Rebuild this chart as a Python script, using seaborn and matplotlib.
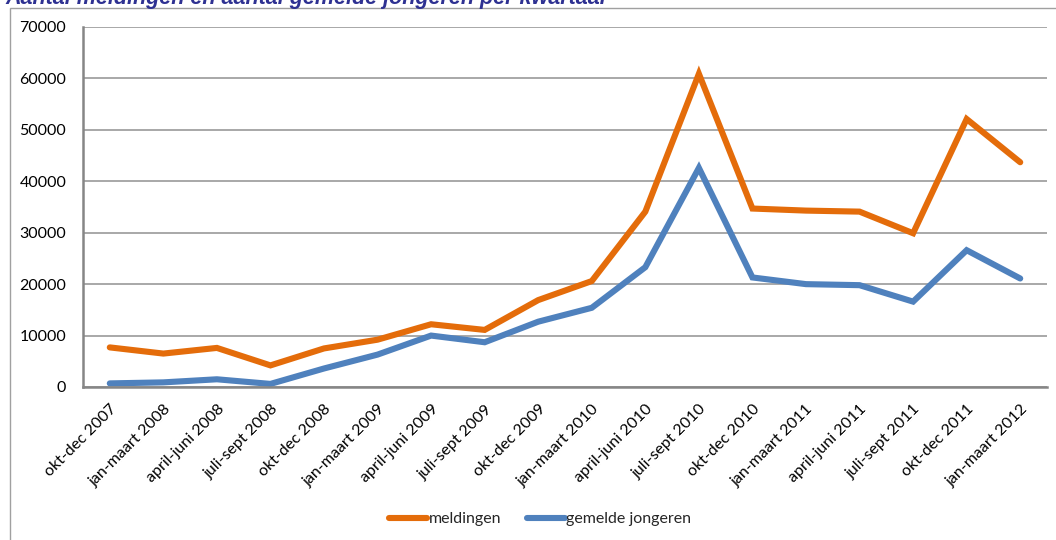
import matplotlib
matplotlib.use("Agg")
import matplotlib.pyplot as plt
import seaborn as sns
import pandas as pd
import numpy as np
from matplotlib.patches import Rectangle
from matplotlib.lines import Line2D

categories = ["okt-dec 2007", "jan-maart 2008", "april-juni 2008", "juli-sept 2008",
              "okt-dec 2008", "jan-maart 2009", "april-juni 2009", "juli-sept 2009",
              "okt-dec 2009", "jan-maart 2010", "april-juni 2010", "juli-sept 2010",
              "okt-dec 2010", "jan-maart 2011", "april-juni 2011", "juli-sept 2011",
              "okt-dec 2011", "jan-maart 2012"]
meldingen = [7700, 6500, 7600, 4200, 7500, 9200, 12200, 11100, 16900, 20600,
             34100, 60900, 34700, 34300, 34100, 29900, 52100, 43700]
gemelde_jongeren = [700, 900, 1500, 600, 3600, 6300, 10000, 8700, 12700, 15400,
                    23300, 42600, 21300, 20000, 19800, 16600, 26600, 21100]
series_names = ["meldingen", "gemelde jongeren"]
colors = ["#E46C0A", "#4F81BD"]
yticks = [0, 10000, 20000, 30000, 40000, 50000, 60000, 70000]
title = "Aantal meldingen en aantal gemelde jongeren per kwartaal"

df = pd.DataFrame({
    "idx": list(range(len(categories))) * 2,
    "waarde": meldingen + gemelde_jongeren,
    "reeks": [series_names[0]] * len(categories) + [series_names[1]] * len(categories),
})

sns.set_theme(style="white")
plt.rcParams["font.family"] = ["Lato", "DejaVu Sans"]

fig = plt.figure(figsize=(10.56, 5.4), dpi=100)
ax = fig.add_axes([83 / 1056, 1 - 387 / 540, (1047 - 83) / 1056, 360 / 540])

sns.lineplot(data=df, x="idx", y="waarde", hue="reeks", hue_order=series_names,
             palette=colors, linewidth=4.4, ax=ax, legend=False,
             solid_capstyle="round", solid_joinstyle="miter")

ax.set_xlim(-0.5, len(categories) - 0.5)
ax.set_ylim(0, 70000)
ax.set_yticks(yticks)
ax.set_yticklabels([str(v) for v in yticks], fontsize=11.5, color="black")
ax.set_xticks(range(len(categories)))
ax.set_xticklabels(categories, rotation=45, ha="right", va="top",
                   rotation_mode="anchor", fontsize=11.5, color="black")
ax.tick_params(axis="y", length=0, pad=12)
ax.tick_params(axis="x", length=0, pad=11)
ax.set_xlabel("")
ax.set_ylabel("")
ax.grid(axis="y", color="#9a9a9a", linewidth=1.2)
ax.grid(axis="x", visible=False)
for s in ["top", "right"]:
    ax.spines[s].set_visible(False)
for s in ["left", "bottom"]:
    ax.spines[s].set_color("#868686")
    ax.spines[s].set_linewidth(1.8)

# legend
handles = [Line2D([0], [0], color=c, linewidth=4.4, solid_capstyle="round") for c in colors]
fig.legend(handles, series_names, loc="center", bbox_to_anchor=(540 / 1056, 1 - 519 / 540),
           ncol=2, frameon=False, fontsize=11.5, handlelength=2.4, handletextpad=0.1,
           columnspacing=1.6)

# outer frame
fig.add_artist(Rectangle((10 / 1056, -0.05), 1.2, 1 - 8 / 540 + 0.05,
                         transform=fig.transFigure, fill=False,
                         edgecolor="#a0a0a0", linewidth=1.0))

fig.text(5 / 1056, 1 - 4 / 540, title, ha="left", va="baseline", fontsize=15.5,
         fontweight="bold", fontstyle="italic", color="#2E3192",
         family=["Liberation Sans", "DejaVu Sans"])

fig.savefig("out.png", dpi=100)
